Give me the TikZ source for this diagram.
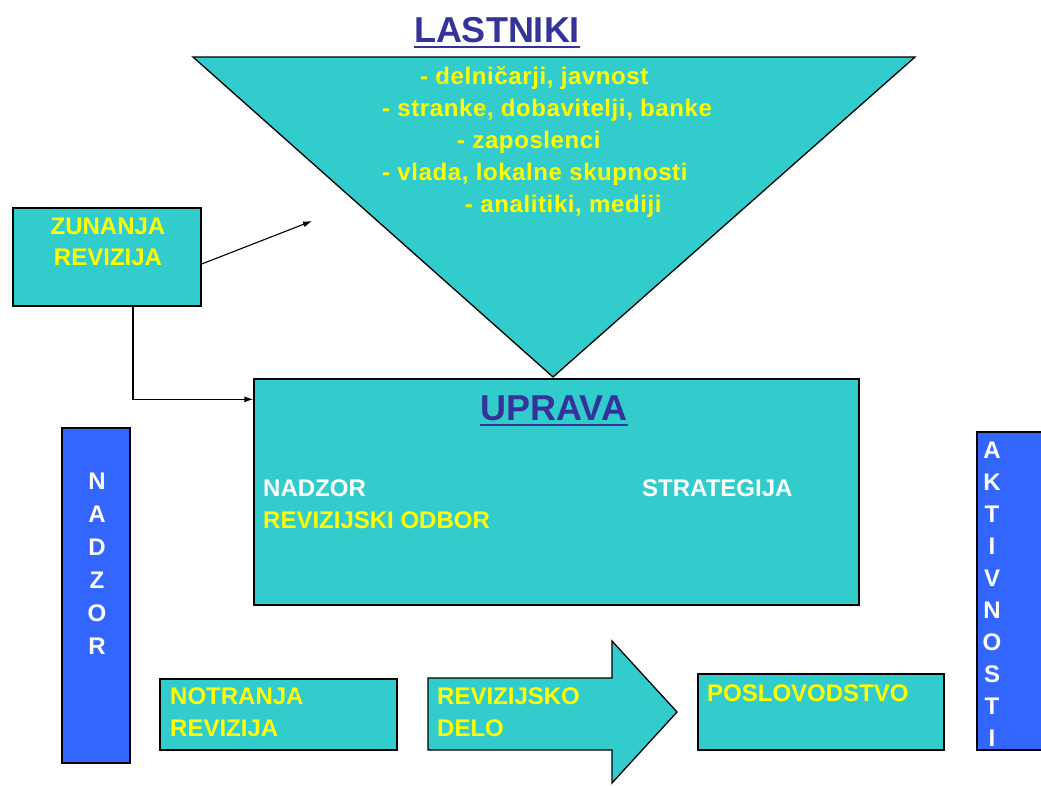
\documentclass[tikz,border=0pt]{standalone}
\usepackage{fontspec}
\setmainfont{Liberation Sans}
\usepackage{tikz}
\usepackage{xcolor}
\usetikzlibrary{arrows.meta,positioning,calc}
\definecolor{boxteal}{RGB}{51,204,204}
\definecolor{barblue}{RGB}{51,102,255}
\definecolor{titleblue}{RGB}{51,51,153}
\definecolor{txtyellow}{RGB}{255,255,0}
\newcommand{\bodyfont}{\bfseries\fontsize{24}{28}\selectfont}
\newcommand{\listfont}{\bfseries\fontsize{24}{28}\selectfont\addfontfeature{LetterSpace=2.5}}
\newcommand{\titlefont}{\bfseries\fontsize{36}{40}\selectfont}

\begin{document}
\begin{tikzpicture}[x=1pt,y=-1pt,
  tealbox/.style={draw=black,line width=1.3pt,fill=boxteal,inner sep=0},
  barbox/.style={draw=black,line width=1.3pt,fill=barblue,inner sep=0},
  ylw/.style={font=\bodyfont,text=txtyellow,inner sep=0},
  lst/.style={font=\listfont,text=txtyellow,inner sep=0},
  wht/.style={font=\bodyfont,text=white,inner sep=0},
  ttl/.style={font=\titlefont,text=titleblue,inner sep=0},
  conn/.style={-{Latex[length=9pt,width=6pt]},line width=1.1pt}]
\useasboundingbox (0,0) rectangle (1041,785);
% owners
\node[ttl,anchor=base] (lastn) at (497,42) {LASTNIKI};
\draw[titleblue,line width=2.5pt] ([yshift=-5pt]lastn.base west) -- ([yshift=-5pt]lastn.base east);
\draw[fill=boxteal,line width=1.3pt] (193,57) -- (915,57) -- (553,377) -- cycle;
\foreach \i/\x/\w in {0/420/{- delničarji, javnost},1/382/{- stranke, dobavitelji, banke},2/457/{- zaposlenci},3/382/{- vlada, lokalne skupnosti},4/465/{- analitiki, mediji}}{
  \node[lst,anchor=base west] (own\i) at (\x,84+32*\i) {\w};
}
\coordinate (lasttip) at (312,221);
% external audit
\node[tealbox,minimum width=188pt,minimum height=98pt] (zunbox) at (107,257) {};
\node[ylw,anchor=base] (zun1) at (108,234) {ZUNANJA};
\node[ylw,anchor=base] (zun2) at (108,265) {REVIZIJA};
% board
\node[tealbox,minimum width=605pt,minimum height=226pt] (upbox) at (556.5,492) {};
\node[ttl,anchor=base] (uprava) at (554,420) {UPRAVA};
\draw[titleblue,line width=2.5pt] ([yshift=-5pt]uprava.base west) -- ([yshift=-5pt]uprava.base east);
\node[wht,anchor=base west] (nadz) at (263,496) {NADZOR};
\node[ylw,anchor=base west] (revodb) at (263,528) {REVIZIJSKI ODBOR};
\node[wht,anchor=base west] (strat) at (642,496) {STRATEGIJA};
\draw[conn] ([yshift=-7pt]zunbox.east) -- (lasttip);
\draw[conn] ([xshift=26pt]zunbox.south) |- ([yshift=-21pt]upbox.north west);
% side bars
\node[barbox,minimum width=68pt,minimum height=335pt] (nzbar) at (96,595.5) {};
\foreach \c [count=\i from 0] in {N,A,D,Z,O,R}{
  \node[wht,anchor=base] (nz\i) at (97,489+33*\i) {\c};
}
\node[barbox,minimum width=69pt,minimum height=318pt] (akbar) at (1011.5,591) {};
\foreach \c [count=\i from 0] in {A,K,T,I,V,N,O,S,T,I}{
  \node[wht,anchor=base] (ak\i) at (992,458+32*\i) {\c};
}
% bottom row
\node[tealbox,minimum width=237pt,minimum height=71pt] (notbox) at (278.5,714.5) {};
\node[ylw,anchor=base west] (not1) at (170,704) {NOTRANJA};
\node[ylw,anchor=base west] (not2) at (170,736) {REVIZIJA};
\draw[fill=boxteal,line width=1.3pt] (428,678) -- (612,678) -- (612,641) -- (677,712) -- (612,783) -- (612,750) -- (428,750) -- cycle;
\node[ylw,anchor=base west] (rev1) at (437,704) {REVIZIJSKO};
\node[ylw,anchor=base west] (rev2) at (437,736) {DELO};
\node[tealbox,minimum width=246pt,minimum height=76pt] (posbox) at (821,712) {};
\node[ylw,anchor=base west] (pos1) at (707,701) {POSLOVODSTVO};
\end{tikzpicture}
\end{document}
